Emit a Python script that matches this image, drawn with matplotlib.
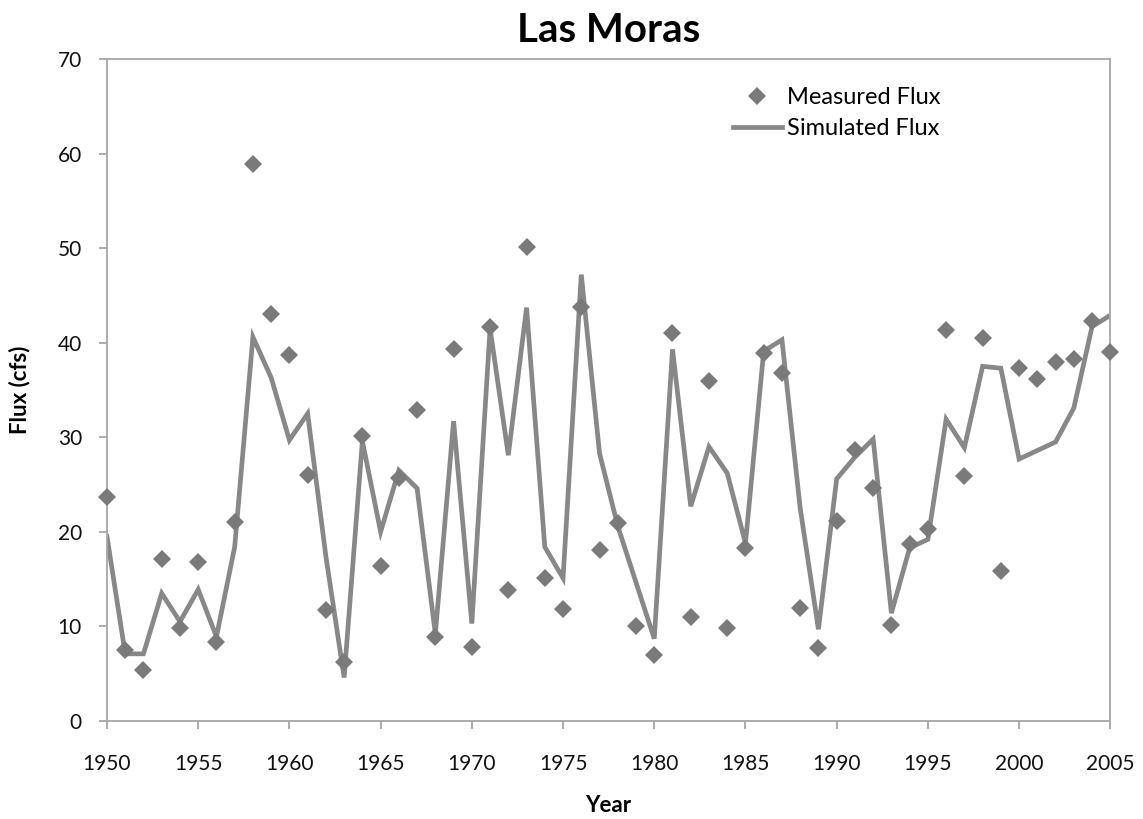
import matplotlib
matplotlib.use("Agg")
import matplotlib.pyplot as plt

plt.rcParams['font.family'] = ['Lato', 'DejaVu Sans']

# Measured annual flux (cfs)
measured_years = list(range(1950, 2006))
measured_flux = [
    23.7, 7.5, 5.4, 17.1, 9.8, 16.8, 8.3, 21.0, 58.9, 43.0,
    38.7, 26.0, 11.7, 6.2, 30.1, 16.4, 25.7, 32.9, 8.9, 39.3,
    7.8, 41.7, 13.8, 50.1, 15.1, 11.8, 43.8, 18.1, 20.9, 10.0,
    7.0, 41.0, 11.0, 35.9, 9.8, 18.3, 38.9, 36.8, 11.9, 7.7,
    21.1, 28.6, 24.6, 10.1, 18.7, 20.3, 41.3, 25.9, 40.5, 15.9,
    37.3, 36.2, 38.0, 38.3, 42.3, 39.0,
]

# Simulated annual flux (cfs)
simulated_years = [
    1950, 1951, 1952, 1953, 1954, 1955, 1956, 1957, 1958, 1959,
    1960, 1961, 1962, 1963, 1964, 1965, 1966, 1967, 1968, 1969,
    1970, 1971, 1972, 1973, 1974, 1975, 1976, 1977, 1978, 1980,
    1981, 1982, 1983, 1984, 1985, 1986, 1987, 1988, 1989, 1990,
    1991, 1992, 1993, 1994, 1995, 1996, 1997, 1998, 1999, 2000,
    2002, 2003, 2004, 2005,
]
simulated_flux = [
    19.5, 7.1, 7.1, 13.5, 10.5, 13.9, 8.9, 18.4, 40.6, 36.3,
    29.7, 32.5, 17.4, 4.6, 29.6, 20.0, 26.5, 24.6, 9.2, 31.7,
    10.3, 41.5, 28.1, 43.7, 18.4, 15.1, 47.2, 28.3, 20.6, 8.7,
    39.3, 22.7, 29.0, 26.2, 18.8, 39.1, 40.3, 22.5, 9.7, 25.6,
    27.9, 29.8, 11.4, 18.3, 19.2, 31.9, 28.9, 37.5, 37.3, 27.7,
    29.5, 33.1, 41.7, 42.9,
]

x_ticks = list(range(1950, 2006, 5))
y_ticks = list(range(0, 71, 10))

fig = plt.figure(figsize=(11.43, 8.19), dpi=100)
ax = fig.add_axes([0.0936, 0.1197, 0.8778, 0.8083])

line_color = '#888888'
marker_color = '#7a7a7a'
axis_color = '#a6a6a6'

ax.plot(simulated_years, simulated_flux, color=line_color, lw=3.4,
        solid_joinstyle='miter', zorder=2, label='Simulated Flux')
ax.plot(measured_years, measured_flux, linestyle='none', marker='D',
        markersize=9, color=marker_color, markeredgewidth=0, zorder=3,
        label='Measured Flux', clip_on=False)

ax.set_xlim(1950, 2005)
ax.set_ylim(0, 70)
ax.set_xticks(x_ticks)
ax.set_yticks(y_ticks)

for side in ['left', 'right', 'top', 'bottom']:
    ax.spines[side].set_color(axis_color)
    ax.spines[side].set_linewidth(1.3)

ax.tick_params(axis='both', direction='out', length=6, width=1.3,
               color=axis_color, labelsize=15, labelcolor='#111111')
ax.tick_params(axis='x', pad=18)
ax.tick_params(axis='y', pad=12)

ax.set_xlabel('Year', fontsize=16, fontweight='bold', labelpad=15)
ax.set_ylabel('Flux (cfs)', fontsize=16, fontweight='bold', labelpad=20)
ax.set_title('Las Moras', fontsize=29, fontweight='bold', pad=12)

handles, labels = ax.get_legend_handles_labels()
order = [1, 0]
leg = ax.legend([handles[i] for i in order], [labels[i] for i in order],
                loc='upper left', bbox_to_anchor=(0.6235, 0.958),
                frameon=False, fontsize=17, handlelength=2.1,
                handletextpad=0.2, labelspacing=0.45, borderpad=0,
                borderaxespad=0)

fig.savefig('out.png', dpi=100)
